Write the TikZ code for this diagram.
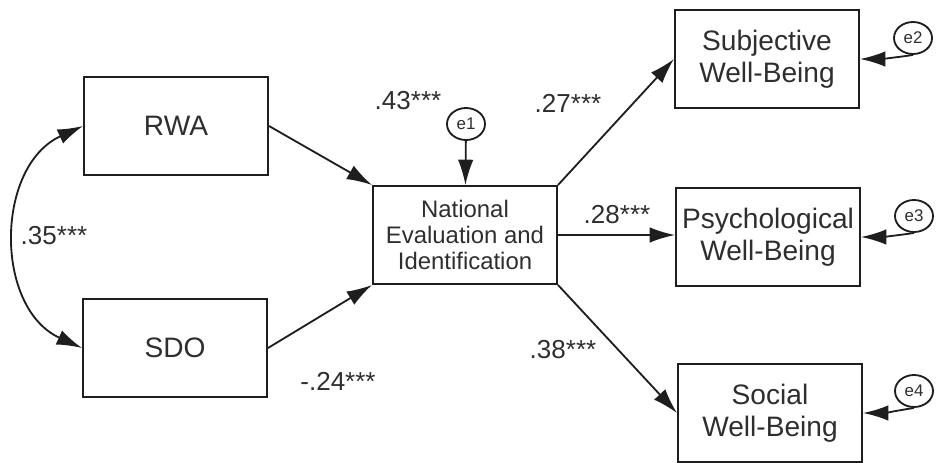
\documentclass[tikz,border=0pt]{standalone}
\usepackage{fontspec}
\setmainfont{Liberation Sans}
\usetikzlibrary{arrows.meta}
\usetikzlibrary{shapes.geometric}
\usetikzlibrary{positioning}

\definecolor{ink}{HTML}{1E1E1E}
\definecolor{txt}{HTML}{2E2E2E}

\tikzset{
  var/.style={draw=ink, line width=1.4pt, minimum width=4.6cm, minimum height=2.45cm,
    inner sep=0pt, align=center, text=txt, font=\fontsize{20}{23}\selectfont},
  mid/.style={var, font=\fontsize{17}{18.2}\selectfont},
  err/.style={draw=ink, line width=1.3pt, ellipse, minimum width=0.95cm, minimum height=0.8cm,
    inner sep=0pt, text=txt, font=\fontsize{12}{14}\selectfont},
  coef/.style={text=txt, inner sep=0pt, font=\fontsize{18.5}{20}\selectfont},
  path/.style={draw=ink, line width=1.3pt, -{Latex[length=18pt,width=11pt]}},
}

\begin{document}
\begin{tikzpicture}[x=0.025cm, y=-0.025cm]
    \useasboundingbox (0,0) rectangle (936,462);

    % exogenous
    \node[var] (rwa) at (176,126) {RWA};
    \node[var] (sdo) at (175,348) {SDO};

    % mediator
    \node[mid] (nei) at (465,235) {National\\Evaluation and\\Identification};
    \node[err] (e1) at (466,124) {e1};

    % outcomes
    \node[var] (swb) at (767,59) {Subjective\\Well-Being};
    \node[var] (pwb) at (768,237) {Psychological\\Well-Being};
    \node[var] (sowb) at (770,413) {Social\\Well-Being};
    \node[err] (e2) at (913,38) {e2};
    \node[err] (e3) at (914,216) {e3};
    \node[err] (e4) at (914,391) {e4};

    % paths
    \draw[path] (rwa.east) -- (nei.north west);
    \draw[path] (sdo.east) -- (nei.south west);
    \draw[path] (nei.north east) -- (swb.west);
    \draw[path] (nei.east) -- (nei.east -| pwb.west);
    \draw[path] (nei.south east) -- (sowb.west);
    \draw[path] (e1) -- (nei);
    \draw[path, {Latex[length=18pt,width=11pt]}-{Latex[length=18pt,width=11pt]}]
      (rwa.west) .. controls +(-88,40) and +(-88,-40) .. (sdo.west);

    % residuals
    \draw[path] (e2.south) .. controls +(-12,2) and +(20,0) .. (swb.east);
    \draw[path] (e3.south) .. controls +(-12,2) and +(20,0) .. (pwb.east);
    \draw[path] (e4.south) .. controls +(-12,2) and +(20,0) .. (sowb.east);

    % coefficients
    \node[coef] (c1) at (408,101) {.43***};
    \node[coef] (c2) at (338,381) {-.24***};
    \node[coef] (c3) at (54,236) {.35***};
    \node[coef] (c4) at (568,103) {.27***};
    \node[coef] (c5) at (617,215) {.28***};
    \node[coef] (c6) at (563,350) {.38***};
\end{tikzpicture}
\end{document}
